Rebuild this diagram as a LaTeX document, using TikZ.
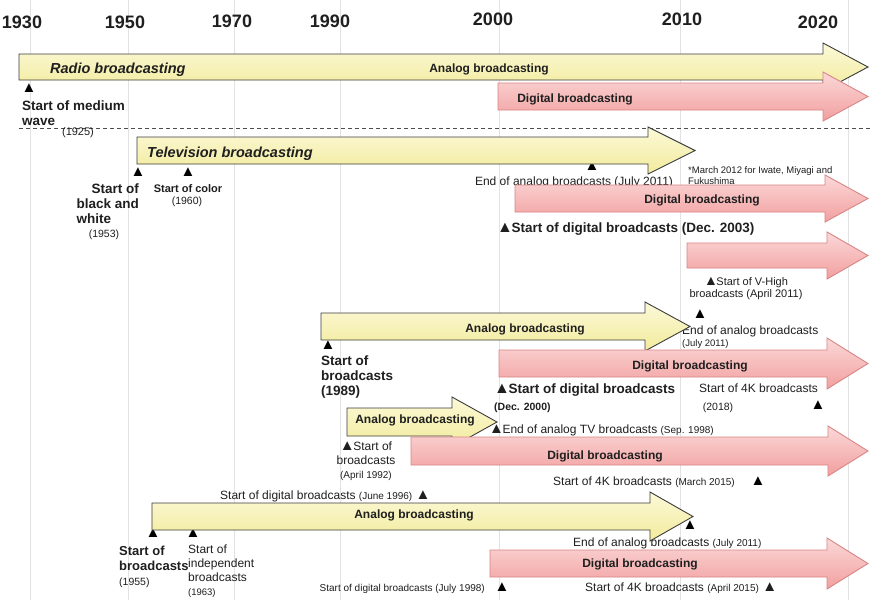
\documentclass[tikz,border=0pt]{standalone}
\usepackage{fontspec}
\setmainfont{Liberation Sans}
\definecolor{anaTop}{HTML}{FCF9D8}
\definecolor{anaBot}{HTML}{F2EB9C}
\definecolor{anaEdge}{HTML}{3C3C3C}
\definecolor{digTop}{HTML}{FBD8D8}
\definecolor{digBot}{HTML}{F29F9F}
\definecolor{digEdge}{HTML}{D98585}
\definecolor{gridGray}{HTML}{E2E2E2}
% font size helper
\newcommand\fsz[2]{\fontsize{#1}{#2}\selectfont}
% event marker glyph used inside running text
\newcommand\uptri[1][15]{{\fontsize{#1}{#1}\selectfont ▲}}
% marker glued to the word that follows it
\newcommand\lead[1][15]{\uptri[#1]\kern-1.5pt}
% stacked lines, baseline on the first line
\newcommand\tlines[2]{\begin{tabular}[t]{@{}#1@{}}#2\end{tabular}}
% broad timeline arrow: style, left x, shaft top, shaft bottom, head x, head overhang, tip x
\newcommand\bandarrow[7]{%
  \path[#1] ({#2},{#3}) -- ({#5},{#3}) -- ({#5},{#3-#6}) -- ({#7},{(#3+#4)/2})
    -- ({#5},{#4+#6}) -- ({#5},{#4}) -- ({#2},{#4}) -- cycle;}
\begin{document}
\begin{tikzpicture}[x=1pt,y=-1pt,
  txt/.style={inner sep=0pt, text=black!88},
  yr/.style={txt, anchor=base, font=\fsz{18}{18}\bfseries},
  bandtitle/.style={txt, anchor=base west, font=\fsz{14.5}{16}\bfseries\itshape},
  bandlabel/.style={txt, anchor=base, font=\fsz{12}{14}\bfseries},
  evbold/.style={txt, font=\fsz{13.5}{15}\bfseries},
  evreg/.style={txt, font=\fsz{12}{14}},
  tri/.style={inner sep=0pt, font=\fsz{15}{15}, text=black},
  analog/.style={draw=anaEdge, line width=0.9pt, top color=anaTop, bottom color=anaBot},
  digital/.style={draw=digEdge, line width=0.9pt, top color=digTop, bottom color=digBot},
  gridline/.style={draw=gridGray, line width=0.9pt},
  separator/.style={draw=black!70, line width=0.8pt, dash pattern=on 4pt off 3pt}]

\useasboundingbox[fill=white] (0,0) rectangle (870,600);

% year grid
\foreach \gx in {30,128,234,340,499,680,848}
  \draw[gridline] (\gx,0) -- (\gx,600);

\node[yr] (y1930) at (22,28) {1930};
\node[yr] (y1950) at (125,28) {1950};
\node[yr] (y1970) at (232,27) {1970};
\node[yr] (y1990) at (330,27) {1990};
\node[yr] (y2000) at (493,25) {2000};
\node[yr] (y2010) at (682,25) {2010};
\node[yr] (y2020) at (818,28) {2020};

% radio / television separator
\coordinate (sepL) at (19,128);
\coordinate (sepR) at (870,128);
\draw[separator] (sepL) -- (sepR);

% ---------- event labels ----------
% radio
\node[tri] (t-mw) at (29,88) {▲};
\node[evbold, anchor=base west] (mw) at (22,110) {\tlines{l}{Start of medium\\wave}};
\node[txt, font=\fsz{11}{12}] (mw-year) at (78,133) {(1925)};

% television
\node[tri] (t-bw) at (138,172) {▲};
\node[evbold, anchor=base east] (bw) at (139,193)
  {\tlines{r}{Start of\\black and\\\multicolumn{1}{@{}l@{}}{white}}};
\node[txt, anchor=base, font=\fsz{10.5}{12}] (bw-year) at (104,237) {(1953)};
\node[tri] (t-col) at (188,172) {▲};
\node[txt, anchor=base, font=\fsz{11}{12}\bfseries] (col) at (188,192) {Start of color};
\node[txt, anchor=base, font=\fsz{10.5}{12}] (col-year) at (187,204) {(1960)};
\node[tri] (t-tvend) at (592,166) {▲};
\node[evreg, anchor=base] (tvend) at (574,185) {End of analog broadcasts (July 2011)};
\node[txt, anchor=base west, font=\fsz{9.5}{10.5}] (note) at (688,173.5)
  {\tlines{l}{*March 2012 for Iwate, Miyagi and\\Fukushima}};
\node[evbold, anchor=base west] (tv-dstart) at (497,232)
  {\lead[16]Start of digital broadcasts (Dec. 2003)};
\node[txt, anchor=base, font=\fsz{11}{12}] (vhigh) at (746,285)
  {\tlines{c}{\lead[14]Start of V-High\\broadcasts (April 2011)}};

% third band
\node[tri] (t-fm) at (328,345) {▲};
\node[evbold, anchor=base west] (fm-start) at (321,365) {\tlines{l}{Start of\\broadcasts\\(1989)}};
\node[tri] (t-fmend) at (700,314) {▲};
\node[txt, anchor=base west, font=\fsz{12}{12.5}] (fmend) at (682,334)
  {\tlines{l}{End of analog broadcasts\\{\fsz{9.5}{10}(July 2011)}}};
\node[txt, anchor=base west, font=\fsz{13.5}{17}\bfseries] (fm-dstart) at (494,393)
  {\tlines{l}{\lead[16]Start of digital broadcasts\\{\fsz{10.5}{11}(Dec. 2000)}}};
\node[evreg, anchor=base west] (fm-4k) at (699,392) {Start of 4K broadcasts};
\node[txt, anchor=base, font=\fsz{10.5}{12}] (fm-4k-year) at (718,410) {(2018)};
\node[tri] (t-fm4k) at (818,405) {▲};

% fourth band
\node[evreg, anchor=base west] (bs-end) at (489,433)
  {\lead End of analog TV broadcasts {\fsz{10}{10}(Sep. 1998)}};
\node[txt, anchor=base, font=\fsz{12}{14}] (bs-start) at (366,450)
  {\tlines{c}{\lead Start of\\broadcasts\\{\fsz{10}{10}(April 1992)}}};
\node[evreg, anchor=base west] (bs-4k) at (553,485)
  {Start of 4K broadcasts {\fsz{10}{10}(March 2015)}};
\node[tri] (t-bs4k) at (758,481) {▲};
\node[evreg, anchor=base west] (bs-dstart) at (220,499)
  {Start of digital broadcasts {\fsz{10}{10}(June 1996)} \uptri};

% fifth band
\node[tri] (t-cs) at (153,533) {▲};
\node[tri] (t-ind) at (193,533) {▲};
\node[evbold, anchor=base west, font=\fsz{13}{15}\bfseries] (cs-start) at (119,555)
  {\tlines{l}{Start of\\broadcasts\\{\fsz{10.5}{11}\mdseries(1955)}}};
\node[txt, anchor=base west, font=\fsz{12}{14}] (ind) at (188,553)
  {\tlines{l}{Start of\\independent\\broadcasts\\{\fsz{9.5}{10}(1963)}}};
\node[tri] (t-csend) at (690,525) {▲};
\node[evreg, anchor=base west] (csend) at (573,546)
  {End of analog broadcasts {\fsz{10}{10}(July 2011)}};
\node[txt, anchor=base east, font=\fsz{10}{11}] (cs-dstart) at (485,591)
  {Start of digital broadcasts (July 1998)};
\node[tri] (t-csd) at (502,587) {▲};
\node[evreg, anchor=base west] (cs-4k) at (585,591)
  {Start of 4K broadcasts {\fsz{10}{10}(April 2015)} \uptri};

% ---------- broadcasting bands ----------
\bandarrow{analog}{19}{54}{80}{823}{11}{868}
\bandarrow{digital}{498}{83}{110}{823}{11}{868}

\bandarrow{analog}{137}{137}{164}{648}{10}{695}
\bandarrow{digital}{515}{185}{212}{825}{10}{868}
\bandarrow{digital}{687}{243}{268}{827}{11}{868}

\bandarrow{analog}{321}{313}{340}{645}{11}{690}
\bandarrow{digital}{499}{350}{377}{827}{12}{868}

\bandarrow{analog}{347}{408}{436}{452}{11}{497}
\bandarrow{digital}{411}{437}{465}{828}{11}{868}

\bandarrow{analog}{152}{503}{530}{650}{11}{693}
\bandarrow{digital}{490}{550}{577}{827}{12}{868}

% ---------- band labels ----------
\node[bandtitle] (radio) at (50,73) {Radio broadcasting};
\node[bandlabel] (radio-analog) at (489,72) {Analog broadcasting};
\node[bandlabel] (radio-digital) at (575,102) {Digital broadcasting};

\node[bandtitle] (tv) at (147,157) {Television broadcasting};
\node[bandlabel] (tv-digital) at (702,203) {Digital broadcasting};

\node[bandlabel] (fm-analog) at (525,332) {Analog broadcasting};
\node[bandlabel] (fm-digital) at (690,369) {Digital broadcasting};

\node[bandlabel] (bs-analog) at (415,423) {Analog broadcasting};
\node[bandlabel] (bs-digital) at (605,459) {Digital broadcasting};

\node[bandlabel] (cs-analog) at (414,518) {Analog broadcasting};
\node[bandlabel] (cs-digital) at (640,567) {Digital broadcasting};
\end{tikzpicture}
\end{document}
